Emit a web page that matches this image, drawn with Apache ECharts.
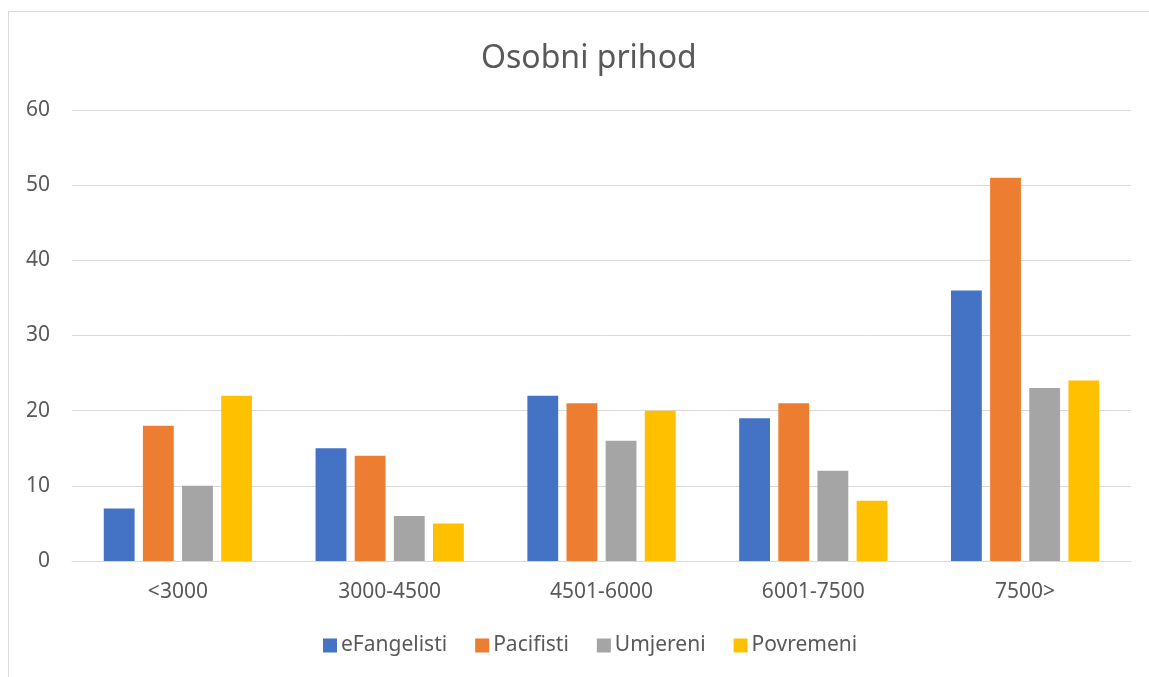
<!DOCTYPE html>
<html>
<head>
<meta charset="utf-8">
<script src="https://cdn.jsdelivr.net/npm/echarts@6/dist/echarts.min.js"></script>
<style>
  html, body { margin: 0; padding: 0; background: #fff; }
  #chart { width: 1149px; height: 677px; }
</style>
</head>
<body>
<div id="chart"></div>
<script>
  // data
  const categories = ['<3000', '3000-4500', '4501-6000', '6001-7500', '7500>']
  const eFangelisti = [7, 15, 22, 19, 36]
  const pacifisti = [18, 14, 21, 21, 51]
  const umjereni = [10, 6, 16, 12, 23]
  const povremeni = [22, 5, 20, 8, 24]

  const seriesNames = ['eFangelisti', 'Pacifisti', 'Umjereni', 'Povremeni']
  const seriesData = [eFangelisti, pacifisti, umjereni, povremeni]
  const colors = ['#4472C4', '#ED7D31', '#A5A5A5', '#FFC000']

  const textColor = '#595959'
  const font = 'Noto Sans'

  let chart = echarts.init(document.getElementById('chart'))
  let option = {
    backgroundColor: '#fff',
    color: colors,
    animation: false,
    graphic: [{
      type: 'rect',
      shape: { x: 8.5, y: 11.5, width: 1200, height: 700 },
      style: { fill: 'none', stroke: '#d9d9d9', lineWidth: 1 }
    }],
    title: {
      text: 'Osobni prihod',
      left: 476,
      top: 38,
      textStyle: {
        color: textColor,
        fontFamily: font,
        fontSize: 32,
        fontWeight: 'normal'
      }
    },
    legend: {
      data: seriesNames,
      bottom: 16,
      left: 318,
      icon: 'rect',
      itemWidth: 14,
      itemHeight: 14,
      itemGap: 28,
      textStyle: {
        color: textColor,
        fontFamily: font,
        fontSize: 21,
        padding: [0, 0, 0, -1]
      }
    },
    grid: {
      left: 72,
      right: 18,
      top: 110,
      bottom: 116,
      containLabel: false
    },
    xAxis: {
      type: 'category',
      data: categories,
      axisLine: { lineStyle: { color: '#d9d9d9', width: 1 } },
      axisTick: { show: false },
      axisLabel: {
        color: textColor,
        fontFamily: font,
        fontSize: 21,
        margin: 21
      }
    },
    yAxis: {
      type: 'value',
      min: 0,
      max: 60,
      interval: 10,
      axisLine: { show: false },
      axisTick: { show: false },
      splitLine: { lineStyle: { color: '#d9d9d9', width: 1 } },
      axisLabel: {
        color: textColor,
        fontFamily: font,
        fontSize: 21,
        margin: 22
      }
    },
    series: seriesNames.map((name, i) => ({
      name: name,
      type: 'bar',
      data: seriesData[i],
      barGap: '27%',
      barCategoryGap: '30%'
    }))
  }
  chart.setOption(option)
</script>
</body>
</html>
